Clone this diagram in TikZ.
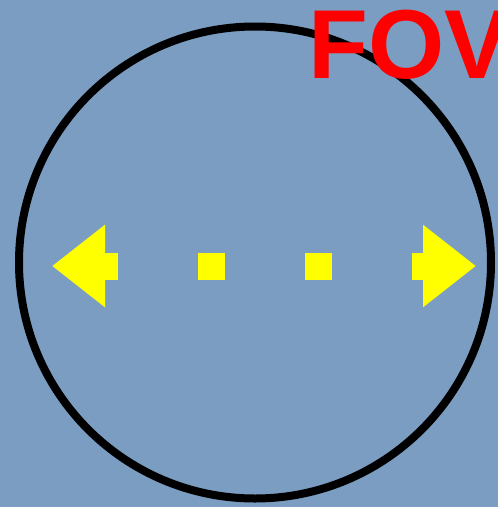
\documentclass[tikz,border=0pt]{standalone}
\usepackage{fontspec}
\setmainfont{Liberation Sans}
\definecolor{skyback}{HTML}{7B9DC1}
\definecolor{fovred}{HTML}{FF0000}
\definecolor{sweepyellow}{HTML}{FFFF00}
\usetikzlibrary{arrows.meta}

\begin{document}
\begin{tikzpicture}[x=1pt,y=-1pt,
    sweep/.style={sweepyellow,line width=27pt,dash pattern=on 27pt off 80pt,dash phase=11pt}]
  % Background and frame
  \fill[skyback] (0,0) rectangle (498,507);
  \useasboundingbox (0,0) rectangle (498,507);
  % Field of view
  \draw[black,line width=8pt] (255,262.5) circle (236);
  \node[fovred,font=\fontsize{98}{98}\selectfont\bfseries,anchor=base west,inner sep=0pt] (fov) at (308,78) {FOV};
  % Scan direction
  \coordinate (left) at (52,266);
  \coordinate (right) at (476,266);
  \draw[sweep,{Triangle[length=53pt,width=79pt]}-{Triangle[length=53pt,width=79pt]}] (left) -- (right);
\end{tikzpicture}
\end{document}
